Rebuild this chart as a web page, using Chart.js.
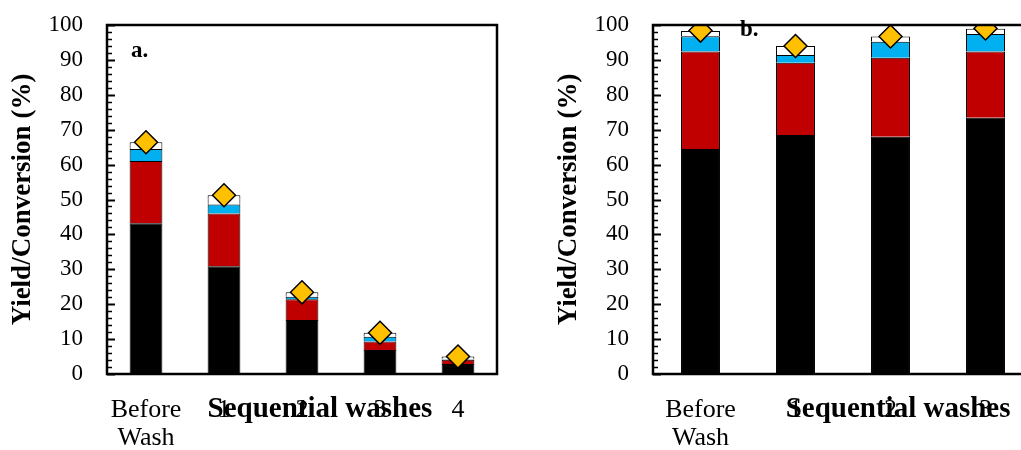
<!DOCTYPE html>
<html>
<head>
<meta charset="utf-8">
<script src="https://cdn.jsdelivr.net/npm/chart.js@4/dist/chart.umd.min.js"></script>
<style>
  html, body { margin: 0; padding: 0; background: #fff; overflow: hidden; width: 1021px; height: 450px; }
  .panel { position: absolute; top: 0; }
</style>
</head>
<body>
<div class="panel" style="left:0px"><canvas id="chartA" width="520" height="450"></canvas></div>
<div class="panel" style="left:546px"><canvas id="chartB" width="510" height="450"></canvas></div>
<script>
// Panel a: product yields (stacked segments) and conversion per wash
const labelsA = [['Before', 'Wash'], '1', '2', '3', '4'];
const blackA = [43.2, 30.9, 15.5, 6.9, 2.9];
const redA   = [17.8, 15.1, 5.9, 2.4, 1.2];
const blueA  = [3.5, 2.6, 0.7, 1.4, 0.1];
const whiteA = [1.9, 2.6, 1.3, 1.1, 0.8];
const conversionA = [66.4, 51.2, 23.4, 11.8, 5.0];

// Panel b
const labelsB = [['Before', 'Wash'], '1', '2', '3'];
const blackB = [64.5, 68.5, 68.0, 73.4];
const redB   = [27.9, 20.7, 22.6, 19.0];
const blueB  = [4.4, 2.2, 4.6, 5.0];
const whiteB = [1.5, 2.6, 1.5, 1.5];
const conversionB = [98.4, 94.0, 96.7, 99.0];

const yTicks = [0, 10, 20, 30, 40, 50, 60, 70, 80, 90, 100];

const SERIF = "'Liberation Serif', 'Times New Roman', serif";

// Frame, inward tick marks, panel letter and the x-axis title
const decorations = {
  id: 'decorations',
  afterDraw(chart, args, opts) {
    const { ctx, chartArea: a } = chart;
    const y = chart.scales.y;
    ctx.save();
    ctx.strokeStyle = '#000';
    // inward ticks on the left axis: major every 10, minor every 2
    for (let v = 0; v <= 100; v += 2) {
      const py = Math.round(y.getPixelForValue(v)) + 0.5;
      const major = v % 10 === 0;
      ctx.lineWidth = major ? 2 : 1.5;
      ctx.beginPath();
      ctx.moveTo(a.left, py);
      ctx.lineTo(a.left + (major ? 8 : 5), py);
      ctx.stroke();
    }
    ctx.lineWidth = 2.5;
    ctx.strokeRect(a.left, a.top, a.right - a.left, a.bottom - a.top);
    ctx.fillStyle = '#000';
    ctx.font = 'bold 23px ' + SERIF;
    ctx.textAlign = 'left';
    ctx.textBaseline = 'alphabetic';
    ctx.fillText(opts.letter, a.left + opts.letterDx, a.top + opts.letterDy);
    ctx.font = 'bold 29px ' + SERIF;
    ctx.textAlign = 'center';
    ctx.textBaseline = 'middle';
    ctx.fillText('Sequential washes', a.left + opts.titleFrac * (a.right - a.left), a.bottom + 36);
    ctx.restore();
  }
};

function makeChart(id, labels, black, red, blue, white, conversion, barPct, padRight, deco) {
  const seg = (data, color, name) => ({
    label: name, data, backgroundColor: color, borderColor: '#000',
    borderWidth: 1, stack: 'yield', order: 1,
    barPercentage: barPct, categoryPercentage: 1
  });
  return new Chart(document.getElementById(id), {
    type: 'bar',
    data: {
      labels,
      datasets: [
        seg(black, '#000000', 'Yield 1'),
        seg(red, '#C00000', 'Yield 2'),
        seg(blue, '#00B0F0', 'Yield 3'),
        seg(white, '#FFFFFF', 'Yield 4'),
        {
          type: 'line', label: 'Conversion', data: conversion, stack: 'conversion', order: 0,
          showLine: false, pointStyle: 'rectRot', pointRadius: 11.5,
          pointBackgroundColor: '#FFC000', pointBorderColor: '#000', pointBorderWidth: 1.5
        }
      ]
    },
    options: {
      responsive: false,
      animation: false,
      layout: { padding: { top: 25, right: padRight, bottom: 0, left: 0 } },
      plugins: { legend: { display: false }, tooltip: { enabled: false }, decorations: deco },
      scales: {
        x: {
          stacked: true,
          grid: { display: false, drawTicks: false },
          border: { display: false },
          ticks: {
            color: '#000', padding: 22, maxRotation: 0, autoSkip: false,
            font: { family: SERIF, size: 26, lineHeight: 1.08 }
          },
          afterFit(s) { s.height = 76; s.paddingLeft = 0; s.paddingRight = 0; }
        },
        y: {
          stacked: true, min: 0, max: 100,
          grid: { display: false, drawTicks: false },
          border: { display: false },
          afterBuildTicks(s) { s.ticks = yTicks.map(v => ({ value: v })); },
          ticks: { color: '#000', padding: 24, font: { family: SERIF, size: 23 } },
          title: {
            display: true, text: 'Yield/Conversion (%)', color: '#000',
            padding: { top: 8, bottom: 0 },
            font: { family: SERIF, size: 27, weight: 'bold', lineHeight: 1.1 }
          },
          afterFit(s) { s.width = 107; s.paddingTop = 0; s.paddingBottom = 0; }
        }
      }
    },
    plugins: [decorations]
  });
}

makeChart('chartA', labelsA, blackA, redA, blueA, whiteA, conversionA, 0.42, 23,
  { letter: 'a.', letterDx: 24, letterDy: 32, titleFrac: 0.546 });
makeChart('chartB', labelsB, blackB, redB, blueB, whiteB, conversionB, 0.41, 23,
  { letter: 'b.', letterDx: 87, letterDy: 11, titleFrac: 0.645 });
</script>
</body>
</html>
